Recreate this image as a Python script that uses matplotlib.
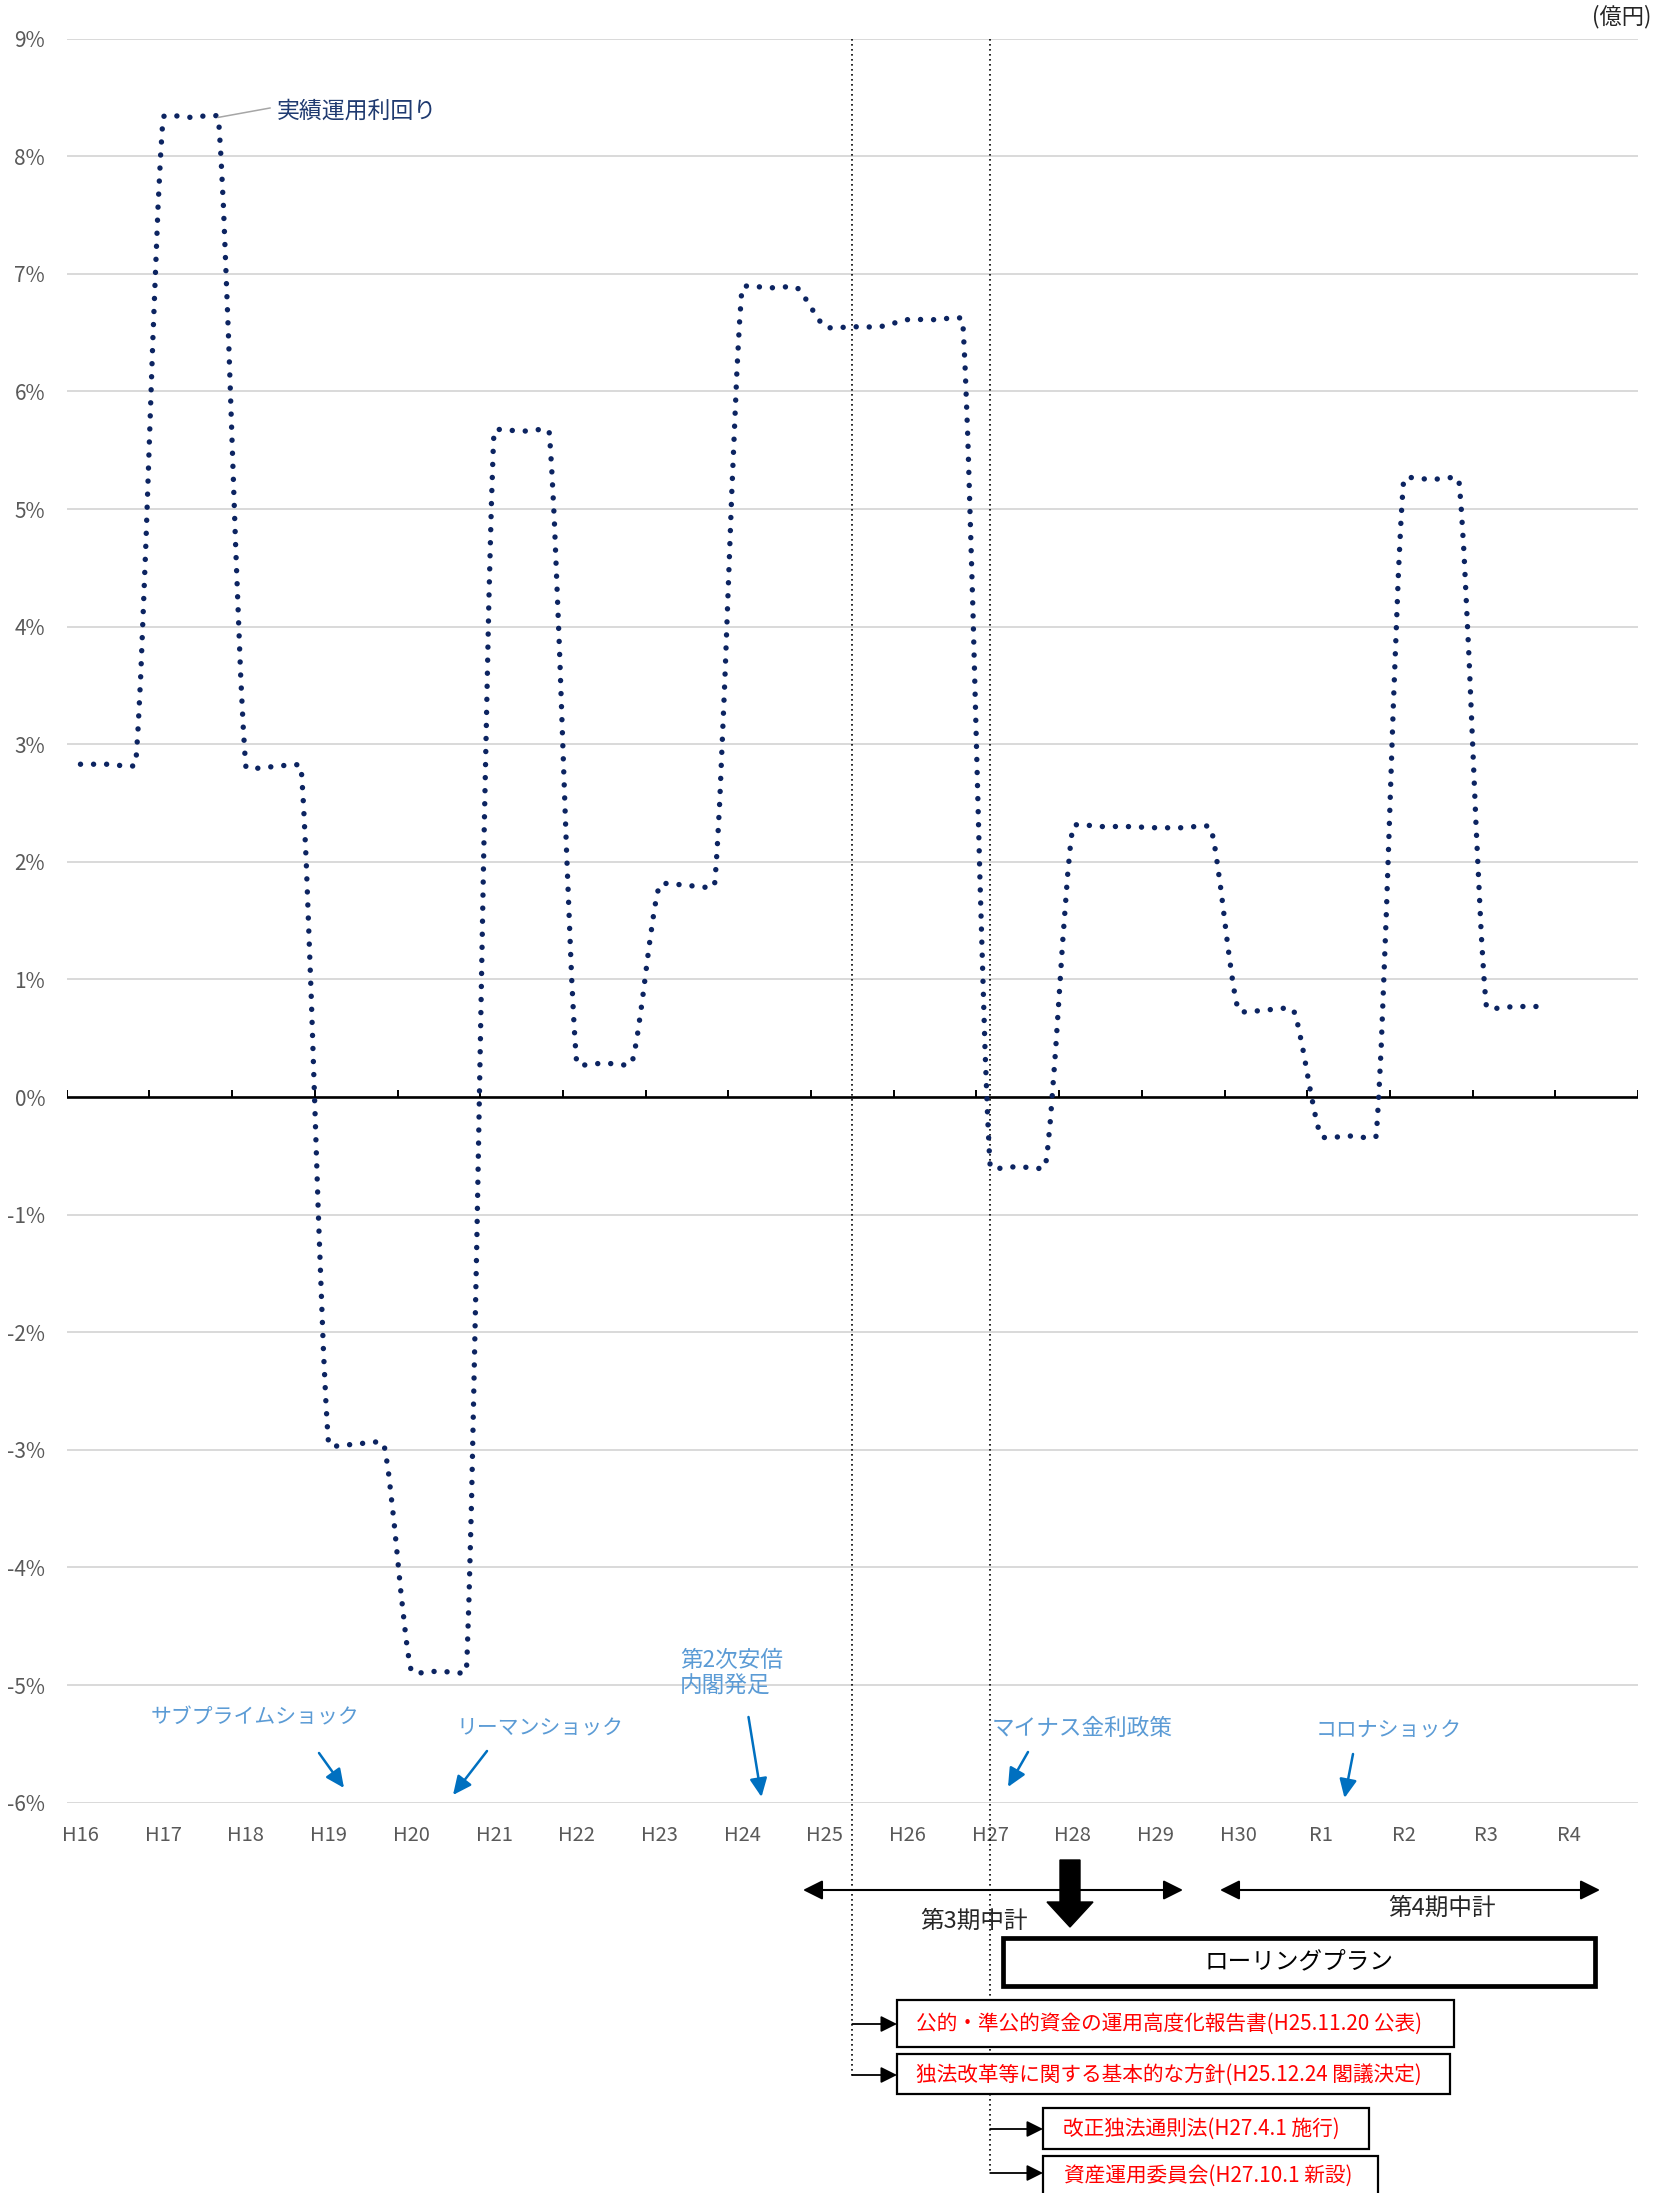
import numpy as np
import matplotlib
matplotlib.use('Agg')
import matplotlib.pyplot as plt
from matplotlib.path import Path
from matplotlib.patches import PathPatch, FancyArrow, Rectangle

plt.rcParams['font.family'] = ['Noto Sans CJK JP', 'DejaVu Sans']

# ---------------- data ----------------
years = ['H16', 'H17', 'H18', 'H19', 'H20', 'H21', 'H22', 'H23', 'H24', 'H25',
         'H26', 'H27', 'H28', 'H29', 'H30', 'R1', 'R2', 'R3', 'R4']
returns = [2.83, 8.33, 2.81, -2.95, -4.88, 5.66, 0.29, 1.80, 6.88, 6.55,
           6.61, -0.59, 2.30, 2.29, 0.74, -0.33, 5.25, 0.77]   # R4: no data
sub_per_year = 3
yticks = list(range(-6, 10))
ytick_labels = [f'{v}%' for v in yticks]
series_label = '実績運用利回り'
unit_label = '(億円)'
event_texts = ['サブプライムショック', 'リーマンショック', '第2次安倍\n内閣発足',
               'マイナス金利政策', 'コロナショック']
plan_texts = ['第3期中計', '第4期中計', 'ローリングプラン']
reform_texts = ['公的・準公的資金の運用高度化報告書(H25.11.20 公表)',
                '独法改革等に関する基本的な方針(H25.12.24 閣議決定)',
                '改正独法通則法(H27.4.1 施行)',
                '資産運用委員会(H27.10.1 新設)']
milestone_x = [28.5, 33.5]   # category positions of the two dotted milestone lines

# ---------------- layout ----------------
W, H, DPI = 1667, 2193, 100
L, R_, T, B = 66.7, 1638.0, 38.6, 1802.7
NAVY = '#0C2461'
GRAY_TXT = '#595959'
BLUE_TXT = '#5B9BD5'
BLUE_ARR = '#0070C0'

fig = plt.figure(figsize=(W / DPI, H / DPI), dpi=DPI)
ax = fig.add_axes([L / W, 1 - B / H, (R_ - L) / W, (B - T) / H])
ncat = sub_per_year * len(years)
ax.set_xlim(0, ncat)
ax.set_ylim(min(yticks), max(yticks))
for s in ax.spines.values():
    s.set_visible(False)

ax.set_yticks(yticks, ytick_labels)
ax.set_xticks([sub_per_year * i + 0.5 for i in range(len(years))], years)
ax.tick_params(axis='y', length=0, pad=15.5, labelsize=15, labelcolor=GRAY_TXT)
ax.tick_params(axis='x', length=0, pad=16, labelsize=14.5, labelcolor=GRAY_TXT)
ax.grid(axis='y', color='#D9D9D9', lw=1.4)
ax.grid(axis='x', visible=False)
ax.set_axisbelow(True)

# zero axis line with category-boundary ticks
ax.axhline(0, color='black', lw=1.9, zorder=3)
px_per_unit_y = ax.transData.transform((0, 1))[1] - ax.transData.transform((0, 0))[1]
ax.vlines(np.arange(0, ncat + 1, sub_per_year), 0, 6.7 / px_per_unit_y,
          color='black', lw=1.4, zorder=3)

# ---------------- smoothed dotted series (Excel-like smoothing) ----------------
xs, ys = [], []
for i, v in enumerate(returns):
    for j in range(sub_per_year):
        xs.append(sub_per_year * i + j + 0.5)
        ys.append(v)


def excel_smooth_path(axis, x, y):
    P = axis.transData.transform(np.column_stack([x, y]))
    n = len(P)
    verts = [P[0]]
    codes = [Path.MOVETO]
    for k in range(n - 1):
        p0 = P[k - 1] if k > 0 else P[k]
        p1, p2 = P[k], P[k + 1]
        p3 = P[k + 2] if k + 2 < n else P[k + 1]
        d12 = np.hypot(*(p2 - p1))
        d02 = np.hypot(*(p2 - p0))
        d13 = np.hypot(*(p3 - p1))
        f1 = 1 / 6 if (d02 == 0 or d02 / 6 < d12 / 6) else d12 / 6 / d02
        f2 = 1 / 6 if (d13 == 0 or d13 / 6 < d12 / 6) else d12 / 6 / d13
        c1 = p1 + f1 * (p2 - p0)
        c2 = p2 - f2 * (p3 - p1)
        verts += [c1, c2, p2]
        codes += [Path.CURVE4] * 3
    return Path(axis.transData.inverted().transform(np.array(verts)), codes)


line = PathPatch(excel_smooth_path(ax, xs, ys), fill=False, edgecolor=NAVY,
                 lw=3.9, linestyle=(0, (0.01, 2.4)), zorder=5)
line.set_capstyle('round')
ax.add_patch(line)

# milestone dotted vertical lines (extend below the plot)
inv = ax.transData.inverted()
vline_bottom_px = [2076, 2174]
vline_px = []
for xm, ybpx in zip(milestone_x, vline_bottom_px):
    yb = inv.transform((0, H - ybpx))[1]
    ax.plot([xm, xm], [max(yticks), yb], color='black', lw=1.2,
            ls=(0, (1, 2.0)), clip_on=False, zorder=4)
    vline_px.append(ax.transData.transform((xm, 0))[0])

# ---------------- overlay for annotations (pixel coords, y down) ----------------
ov = fig.add_axes([0, 0, 1, 1], zorder=3)
ov.set_xlim(0, W)
ov.set_ylim(H, 0)
ov.axis('off')
ov.patch.set_alpha(0)

# series label with leader line
sx, sy = ax.transData.transform((sub_per_year * 1 + 2.5, returns[1]))
ov.plot([sx, 270], [H - sy, 108], color='#A6A6A6', lw=1.1)
ov.text(277, 111, series_label, ha='left', va='center', fontsize=16.5, color='#1F3A70')

# unit label
ov.text(1651, 17, unit_label, ha='right', va='center', fontsize=16, color='#262626')

# events
blue_arrow = dict(arrowstyle='-|>,head_length=0.75,head_width=0.35', color=BLUE_ARR,
                  lw=1.8, mutation_scale=15, shrinkA=0, shrinkB=0)
ev_text_pos = [(255, 1717, 'center'), (540, 1728, 'center'), (680, 1673, 'left'),
               (1082, 1728, 'center'), (1389, 1730, 'center')]
ev_sizes = [15, 15, 16.3, 16.3, 15]
ev_arrows = [((319, 1753), (344, 1788)), ((487, 1751), (453, 1795)),
             ((748.5, 1717), (761.5, 1797)), ((1028, 1752), (1008, 1787)),
             ((1353, 1754), (1344.5, 1798))]
for txt, (tx, ty, ha), fs, (tail, tip) in zip(event_texts, ev_text_pos, ev_sizes, ev_arrows):
    ov.text(tx, ty, txt, ha=ha, va='center', fontsize=fs, color=BLUE_TXT,
            linespacing=1.15, multialignment='left')
    ov.annotate('', xy=tip, xytext=tail, arrowprops=blue_arrow)

# plan period arrows
dbl = dict(arrowstyle='<|-|>,head_length=0.8,head_width=0.4', color='black',
           lw=1.5, mutation_scale=15, shrinkA=0, shrinkB=0)
ov.annotate('', xy=(1183, 1890), xytext=(803, 1890), arrowprops=dbl)
ov.annotate('', xy=(1600, 1890), xytext=(1220, 1890), arrowprops=dbl)
ov.text(974, 1921, plan_texts[0], ha='center', va='center', fontsize=17, color='#262626')
ov.text(1442, 1908, plan_texts[1], ha='center', va='center', fontsize=17, color='#262626')

# big down arrow
ov.add_patch(FancyArrow(1070, 1860, 0, 67, width=20, head_width=46, head_length=25,
                        length_includes_head=True, color='black', zorder=6))

# rolling plan box
ov.add_patch(Rectangle((1003, 1938), 592, 48, facecolor='white', edgecolor='black',
                       lw=3.4, zorder=5))
ov.text(1299, 1962, plan_texts[2], ha='center', va='center', fontsize=17,
        color='black', zorder=6)

# reform boxes
boxes = [(897, 2000, 557, 47), (897, 2054, 553, 40), (1043, 2108, 326, 41),
         (1043, 2156, 335, 60)]
text_pos = [(916, 2024), (916, 2075), (1063, 2129), (1064, 2176)]
arrow_y = [2024, 2075, 2129, 2173]
arrow_from = [vline_px[0], vline_px[0], vline_px[1], vline_px[1]]
small = dict(arrowstyle='-|>,head_length=0.7,head_width=0.35', color='black',
             lw=1.3, mutation_scale=14, shrinkA=0, shrinkB=0)
for (bx, by, bw, bh), (tx, ty), txt, ay, ax0 in zip(boxes, text_pos, reform_texts,
                                                   arrow_y, arrow_from):
    ov.add_patch(Rectangle((bx, by), bw, bh, facecolor='white', edgecolor='black',
                           lw=1.6, zorder=5))
    ov.text(tx, ty, txt, ha='left', va='center', fontsize=14.9, color='#FF0000', zorder=6)
    ov.annotate('', xy=(bx, ay), xytext=(ax0, ay), arrowprops=small, zorder=6)

fig.savefig('out.png', dpi=DPI)
